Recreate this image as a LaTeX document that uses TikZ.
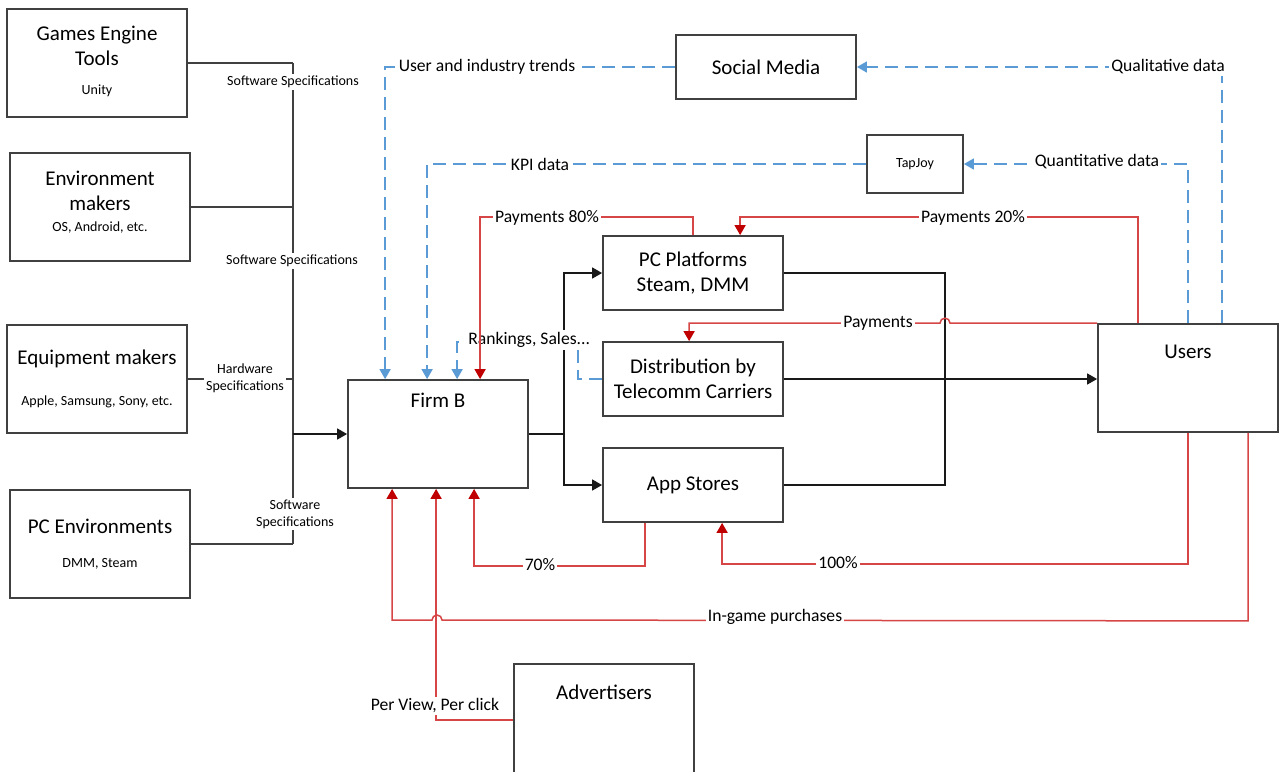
\documentclass[tikz,border=0pt]{standalone}
\usepackage{fontspec}
\setmainfont{Carlito}
\usetikzlibrary{arrows.meta, calc}

\definecolor{lineblue}{RGB}{91,155,213}
\definecolor{linered}{RGB}{214,70,70}
\definecolor{tipred}{RGB}{192,0,0}
\definecolor{boxgray}{RGB}{64,64,64}

\newcommand{\bigtxt}{\fontsize{10.5}{12.6}\selectfont}
\newcommand{\lbltxt}{\fontsize{8.8}{10.5}\selectfont}
\newcommand{\smalltxt}{\fontsize{7}{8.4}\selectfont}
\newcommand{\subtxt}[1]{{\smalltxt #1}}

\begin{document}
\begin{tikzpicture}[x=0.5pt, y=-0.5pt,
	>={Triangle[length=5pt,width=5.5pt]},
	box/.style={rectangle, draw=boxgray, line width=0.9pt, minimum width=90pt, minimum height=54pt, inner sep=2pt, align=center, font=\bigtxt},
	title/.style={font=\bigtxt, anchor=north},
	bus/.style={draw=boxgray, line width=0.7pt},
	blk/.style={draw=black!90, line width=0.75pt},
	bluearr/.style={draw=lineblue, line width=0.75pt, dash pattern=on 6.5pt off 3.5pt, -{Triangle[length=5pt,width=5.5pt,color=lineblue]}},
	redarr/.style={draw=linered, line width=0.75pt, -{Triangle[length=5pt,width=5.5pt,color=tipred]}},
	lbl/.style={fill=white, inner sep=1pt, font=\lbltxt},
	slbl/.style={fill=white, inner sep=1pt, align=center, font=\smalltxt}]

				\path[use as bounding box, fill=white] (0,0) rectangle (1279,771);
				\clip (0,0) rectangle (1279,771);

				\node[box] (engine) at (97,63) {Games Engine\\Tools\\[2pt]\subtxt{Unity}\\[-9.6pt]\mbox{}};
				\node[box] (envmk) at (100,207) {Environment\\makers\\[-2pt]\subtxt{OS, Android, etc.}\\[-6.6pt]\mbox{}};
				\node[box] (equip) at (97,379) {Equipment makers\\[7.5pt]\subtxt{Apple, Samsung, Sony, etc.}};
				\node[box] (pcenv) at (100,544) {PC Environments\\[4.5pt]\subtxt{DMM, Steam}};

				\node[box,
					label={[title, yshift=-3.6pt]north:Firm B}
				] (firm) at (438,434) {};

				\node[box, minimum height=37pt] (pcplat) at (693,273) {PC Platforms\\Steam, DMM};
				\node[box, minimum height=37pt] (telco) at (693,379) {Distribution by\\Telecomm Carriers};
				\node[box, minimum height=37pt] (appst) at (693,485) {App Stores};

				\node[box, minimum width=90pt, minimum height=32pt] (social) at (766,67) {Social Media};
				\node[box, minimum width=48pt, minimum height=29pt, font=\smalltxt] (tapjoy) at (915,164) {TapJoy};

				\node[box,
					minimum width=90pt,
					label={[title, yshift=-7.4pt]north:Users}
				] (users) at (1188,378) {};

				\node[box,
					minimum width=90pt,
					minimum height=56pt,
					label={[title, yshift=-7.5pt]north:Advertisers}
				] (adv) at (604,720) {};

				\coordinate (lbus) at (293,0);
				\coordinate (rbus) at (945,0);
				\coordinate (split) at (564,434);

				\draw[bus] (engine.east) -- (engine.east -| lbus);
				\draw[bus] (envmk.east) -- (envmk.east -| lbus);
				\draw[bus] (equip.east) -- (equip.east -| lbus);
				\draw[bus] (pcenv.east) -- (pcenv.east -| lbus);
				\draw[bus] (engine.east -| lbus) -- (pcenv.east -| lbus);
				\draw[blk, ->] (firm.west -| lbus) -- (firm.west);

				\node[slbl] (spec1) at (293,82) {Software Specifications};
				\node[slbl] (spec2) at (292,261) {Software Specifications};
				\node[slbl] (hwspec) at (245,378) {Hardware\\Specifications};
				\node[slbl] (spec3) at (295,514) {Software\\Specifications};

				\draw[blk] (firm.east) -- (split);
				\draw[blk, ->] (split) |- (pcplat.west);
				\draw[blk, ->] (split) |- (appst.west);
				\draw[blk] (pcplat.east) -| (rbus |- appst.east) -- (appst.east);
				\draw[blk, ->] (telco.east) -- (telco.east -| users.west);

				\draw[bluearr] (social.west) -| ($(firm.north west)+(38,0)$);
				\draw[bluearr] ($(users.north west)+(125,0)$) |- (social.east);
				\draw[bluearr] (users.north) |- (tapjoy.east);
				\draw[bluearr] (tapjoy.west) -| ($(firm.north west)+(80,0)$);
				\draw[bluearr] (telco.west) -- ++(-24,0) |- ($(firm.north west)+(110,-37)$) -- ($(firm.north west)+(110,0)$);

				\node[lbl] (trend) at (487,67) {User and industry trends};
				\node[lbl] (qual) at (1168,67) {Qualitative data};
				\node[lbl] (quant) at (1097,162) {Quantitative data};
				\node[lbl] (kpi) at (540,164) {KPI data};
				\node[lbl, anchor=west] (rank) at (466,340) {Rankings, Sales...};

				\draw[redarr] (pcplat.north) -- ++(0,-18) -| ($(firm.north west)+(133,0)$);
				\draw[redarr] ($(users.north west)+(41,0)$) -- ++(0,-106) -| ($(pcplat.north west)+(138,0)$);
				\draw[redarr] (users.north west) -- ($(rbus |- users.north west)+(5,0)$) arc (0:180:2.5pt) -| ($(telco.north west)+(87,0)$);
				\draw[redarr] ($(appst.south west)+(43,0)$) -- ++(0,43) -| ($(firm.south west)+(127,0)$);
				\draw[redarr] (users.south) -- ++(0,131) -| ($(appst.south west)+(120,0)$);
				\draw[redarr] ($(users.south west)+(151,0)$) -- ++(0,188) -- (442,620) arc (0:180:2.5pt) -| ($(firm.south west)+(45,0)$);
				\draw[redarr] (adv.west) -| ($(firm.south west)+(89,0)$);

				\node[lbl] (pay80) at (547,218) {Payments 80\%};
				\node[lbl] (pay20) at (973,218) {Payments 20\%};
				\node[lbl] (pay) at (878,323) {Payments};
				\node[lbl] (p70) at (540,565) {70\%};
				\node[lbl] (p100) at (838,563) {100\%};
				\node[lbl] (ingame) at (775,617) {In-game purchases};
				\node[lbl] (perview) at (435,706) {Per View, Per click};
\end{tikzpicture}
\end{document}
